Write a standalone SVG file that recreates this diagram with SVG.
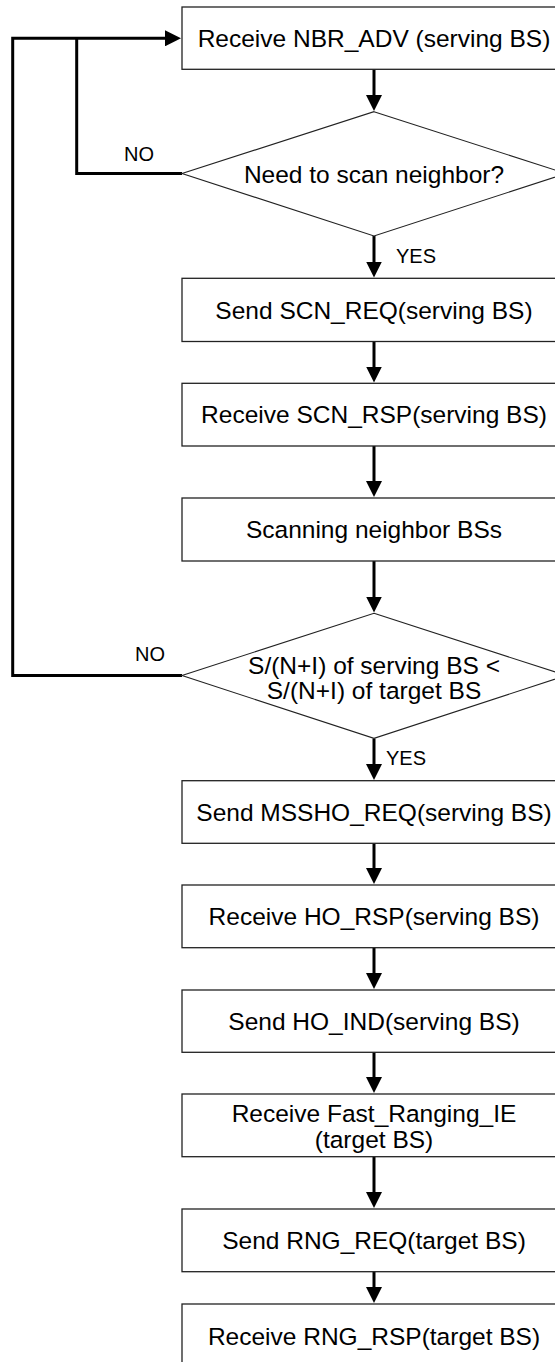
<svg xmlns="http://www.w3.org/2000/svg" width="555" height="1362" viewBox="0 0 555 1362">
<style>
.box{fill:#fff;stroke:#222;stroke-width:1.3}
.dia{fill:#fff;stroke:#222;stroke-width:1.1}
.t{font-family:"Liberation Sans",Arial,sans-serif;font-size:24.5px;fill:#000;text-anchor:middle}
.lbl{font-family:"Liberation Sans",Arial,sans-serif;font-size:20px;fill:#000}
.c{fill:none;stroke:#000;stroke-width:3}
</style>
<defs>
<marker id="ah" markerUnits="userSpaceOnUse" viewBox="0 0 16 16" markerWidth="16" markerHeight="16" refX="1" refY="8" orient="auto">
<path d="M0,0 L16,8 L0,16 z" fill="#000"/>
</marker>
</defs>
<rect width="555" height="1362" fill="#fff"/>
<g id="connectors">
<line class="c" x1="374" y1="69.5" x2="374" y2="96" marker-end="url(#ah)"/>
<line class="c" x1="374" y1="236" x2="374" y2="262.5" marker-end="url(#ah)"/>
<line class="c" x1="374" y1="341.5" x2="374" y2="367.5" marker-end="url(#ah)"/>
<line class="c" x1="374" y1="446" x2="374" y2="482" marker-end="url(#ah)"/>
<line class="c" x1="374" y1="561" x2="374" y2="597.5" marker-end="url(#ah)"/>
<line class="c" x1="374" y1="738.5" x2="374" y2="765" marker-end="url(#ah)"/>
<line class="c" x1="374" y1="843.5" x2="374" y2="869" marker-end="url(#ah)"/>
<line class="c" x1="374" y1="948" x2="374" y2="974" marker-end="url(#ah)"/>
<line class="c" x1="374" y1="1052.5" x2="374" y2="1078" marker-end="url(#ah)"/>
<line class="c" x1="374" y1="1157" x2="374" y2="1193" marker-end="url(#ah)"/>
<line class="c" x1="374" y1="1272" x2="374" y2="1288" marker-end="url(#ah)"/>
<polyline class="c" points="182,173.5 76.7,173.5 76.7,38.3"/>
<polyline class="c" points="182,675.5 12.7,675.5 12.7,38.3 166,38.3" marker-end="url(#ah)"/>
<text class="lbl" x="124" y="161">NO</text>
<text class="lbl" x="396" y="263">YES</text>
<text class="lbl" x="135" y="661">NO</text>
<text class="lbl" x="386" y="765">YES</text>
</g>
<g id="n1"><rect class="box" x="182" y="7" width="384" height="62.3"/><text class="t" x="374" y="47">Receive NBR_ADV (serving BS)</text></g>
<g id="d1"><polygon class="dia" points="374,111.7 566,173.5 374,236 182,173.5"/><text class="t" x="374" y="183">Need to scan neighbor?</text></g>
<g id="n2"><rect class="box" x="182" y="278.3" width="384" height="63.2"/><text class="t" x="374" y="318.7">Send SCN_REQ(serving BS)</text></g>
<g id="n3"><rect class="box" x="182" y="383.3" width="384" height="62.7"/><text class="t" x="374" y="423.4">Receive SCN_RSP(serving BS)</text></g>
<g id="n4"><rect class="box" x="182" y="498" width="384" height="63"/><text class="t" x="374" y="538.2">Scanning neighbor BSs</text></g>
<g id="d2"><polygon class="dia" points="374,613.3 566,675.5 374,738.3 182,675.5"/><text class="t" x="374" y="673.5">S/(N+I) of serving BS &lt;</text><text class="t" x="374" y="698.5">S/(N+I) of target BS</text></g>
<g id="n5"><rect class="box" x="182" y="780.7" width="384" height="62.6"/><text class="t" x="374" y="820.7">Send MSSHO_REQ(serving BS)</text></g>
<g id="n6"><rect class="box" x="182" y="885" width="384" height="62.7"/><text class="t" x="374" y="925">Receive HO_RSP(serving BS)</text></g>
<g id="n7"><rect class="box" x="182" y="990" width="384" height="62.3"/><text class="t" x="374" y="1029.8">Send HO_IND(serving BS)</text></g>
<g id="n8"><rect class="box" x="182" y="1094" width="384" height="62.7"/><text class="t" x="374" y="1121.5">Receive Fast_Ranging_IE</text><text class="t" x="374" y="1147.5">(target BS)</text></g>
<g id="n9"><rect class="box" x="182" y="1209" width="384" height="62.7"/><text class="t" x="374" y="1248.7">Send RNG_REQ(target BS)</text></g>
<g id="n10"><rect class="box" x="182" y="1304" width="384" height="62.5"/><text class="t" x="374" y="1345">Receive RNG_RSP(target BS)</text></g>
</svg>
